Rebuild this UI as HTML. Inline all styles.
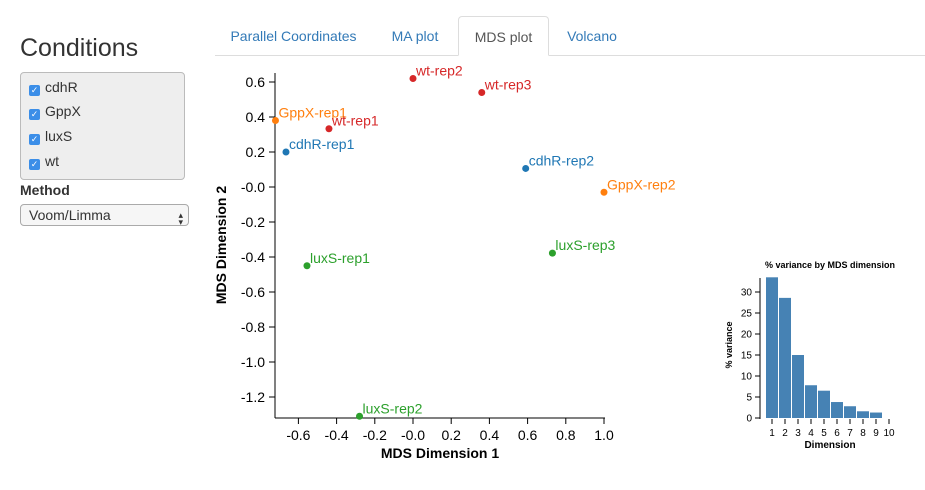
<!DOCTYPE html>
<html><head><meta charset="utf-8"><style>
body{margin:0;width:925px;height:490px;background:#fff;font-family:"Liberation Sans",sans-serif;position:relative;overflow:hidden;color:#333}
.abs{position:absolute}
h1{position:absolute;left:20px;top:34px;margin:0;font-size:25px;font-weight:500;color:#333}
.box{position:absolute;left:20px;top:72px;width:163px;height:106px;background:#eee;border:1px solid #bbb;border-radius:4px}
.cb{position:absolute;left:8px;font-size:14px;color:#333}
.cb span.k{display:inline-block;width:11px;height:11px;background:#3b8ee8;border-radius:2px;color:#fff;font-size:9px;line-height:11px;text-align:center;vertical-align:-1px;margin-right:5px}
.tab{position:absolute;top:16px;height:38px;line-height:40px;font-size:14px;color:#337ab7;text-align:center}
</style></head><body>
<h1>Conditions</h1>
<div class="box">
<div class="cb" style="top:6px"><span class="k">✓</span>cdhR</div>
<div class="cb" style="top:30px"><span class="k">✓</span>GppX</div>
<div class="cb" style="top:55px"><span class="k">✓</span>luxS</div>
<div class="cb" style="top:80px"><span class="k">✓</span>wt</div>
</div>
<div class="abs" style="left:20px;top:182px;font-size:14px;font-weight:bold">Method</div>
<div class="abs" style="left:20px;top:204px;width:167px;height:20px;border:1px solid #aaa;border-radius:4px;background:#f6f6f6;font-size:14px;line-height:20px"><span style="margin-left:8px">Voom/Limma</span><span style="position:absolute;right:5px;top:0;font-size:9px">▴<br></span><span style="position:absolute;right:5px;top:7px;font-size:9px">▾</span></div>
<div class="abs" style="left:215px;top:55px;width:710px;height:1px;background:#ddd"></div>
<div class="tab" style="left:222px;width:143px">Parallel Coordinates</div>
<div class="tab" style="left:375px;width:80px">MA plot</div>
<div class="tab" style="left:458px;width:89px;border:1px solid #ddd;border-bottom:1px solid #fff;border-radius:4px 4px 0 0;color:#555;background:#fff">MDS plot</div>
<div class="tab" style="left:552px;width:80px">Volcano</div>
<svg id="chart" class="abs" style="left:0;top:0" width="925" height="490" font-family="Liberation Sans, sans-serif"></svg>
<script>
const names=["wt-rep2","wt-rep3","GppX-rep1","wt-rep1","cdhR-rep1","cdhR-rep2","GppX-rep2","luxS-rep3","luxS-rep1","luxS-rep2"];
const dim1=[0.0,0.36,-0.72,-0.44,-0.665,0.59,1.0,0.73,-0.555,-0.28];
const dim2=[0.62,0.54,0.38,0.333,0.20,0.106,-0.03,-0.378,-0.45,-1.31];
const colors=["#d62728","#d62728","#ff7f0e","#d62728","#1f77b4","#1f77b4","#ff7f0e","#2ca02c","#2ca02c","#2ca02c"];
const xTicks=[-0.6,-0.4,-0.2,0,0.2,0.4,0.6,0.8,1.0];
const yTicks=[0.6,0.4,0.2,0,-0.2,-0.4,-0.6,-0.8,-1.0,-1.2];
const varDims=[1,2,3,4,5,6,7,8,9,10];
const varVals=[33.5,28.6,15,7.8,6.5,3.8,2.8,1.6,1.3,0];
const varTicks=[0,5,10,15,20,25,30];
const svg=document.getElementById('chart');const NS='http://www.w3.org/2000/svg';
function mk(t,a,p){const e=document.createElementNS(NS,t);for(const k in a)e.setAttribute(k,a[k]);(p||svg).appendChild(e);return e;}
const sx=v=>413+v*191, sy=v=>187-v*175;
mk('line',{x1:275,y1:73,x2:275,y2:418,stroke:'#000'});
mk('line',{x1:275,y1:418,x2:605,y2:418,stroke:'#000'});
xTicks.forEach(t=>{mk('line',{x1:sx(t),y1:418,x2:sx(t),y2:424,stroke:'#000'});const e=mk('text',{x:sx(t),y:440,'text-anchor':'middle','font-size':14,fill:'#000'});e.textContent=(t===0?'-0.0':t.toFixed(1));});
yTicks.forEach(t=>{mk('line',{x1:269,y1:sy(t),x2:275,y2:sy(t),stroke:'#000'});const e=mk('text',{x:265,y:sy(t)+5,'text-anchor':'end','font-size':14,fill:'#000'});e.textContent=(t===0?'-0.0':t.toFixed(1));});
let e=mk('text',{x:440,y:458,'text-anchor':'middle','font-size':14,'font-weight':'bold',fill:'#000'});e.textContent='MDS Dimension 1';
e=mk('text',{x:0,y:0,transform:'translate(226,245) rotate(-90)','text-anchor':'middle','font-size':14,'font-weight':'bold',fill:'#000'});e.textContent='MDS Dimension 2';
names.forEach((n,i)=>{const c=mk('circle',{cx:sx(dim1[i]),cy:sy(dim2[i]),r:3.5,fill:colors[i]});
const t=mk('text',{x:sx(dim1[i])+3,y:sy(dim2[i])-3,'font-size':14,fill:colors[i]});t.textContent=n;});
const bx=v=>772+(v-1)*13, by=v=>418-v*4.2;
e=mk('text',{x:830,y:268,'text-anchor':'middle','font-size':9,'font-weight':'bold',fill:'#000'});e.textContent='% variance by MDS dimension';
varDims.forEach((d,i)=>{const r=mk('rect',{x:bx(d)-6,y:by(varVals[i]),width:12,height:418-by(varVals[i]),fill:'#4682b4'});
mk('line',{x1:bx(d),y1:419,x2:bx(d),y2:424,stroke:'#000'});const t=mk('text',{x:bx(d),y:436,'text-anchor':'middle','font-size':10,fill:'#000'});t.textContent=d;});
mk('line',{x1:760,y1:278,x2:760,y2:419,stroke:'#000'});
varTicks.forEach(t=>{mk('line',{x1:755,y1:by(t),x2:760,y2:by(t),stroke:'#000'});const l=mk('text',{x:752,y:by(t)+3.5,'text-anchor':'end','font-size':10,fill:'#000'});l.textContent=t;});
e=mk('text',{x:830,y:448,'text-anchor':'middle','font-size':10,'font-weight':'bold',fill:'#000'});e.textContent='Dimension';
e=mk('text',{x:0,y:0,transform:'translate(732,345) rotate(-90)','text-anchor':'middle','font-size':9,'font-weight':'bold',fill:'#000'});e.textContent='% variance';
</script>
</body></html>
